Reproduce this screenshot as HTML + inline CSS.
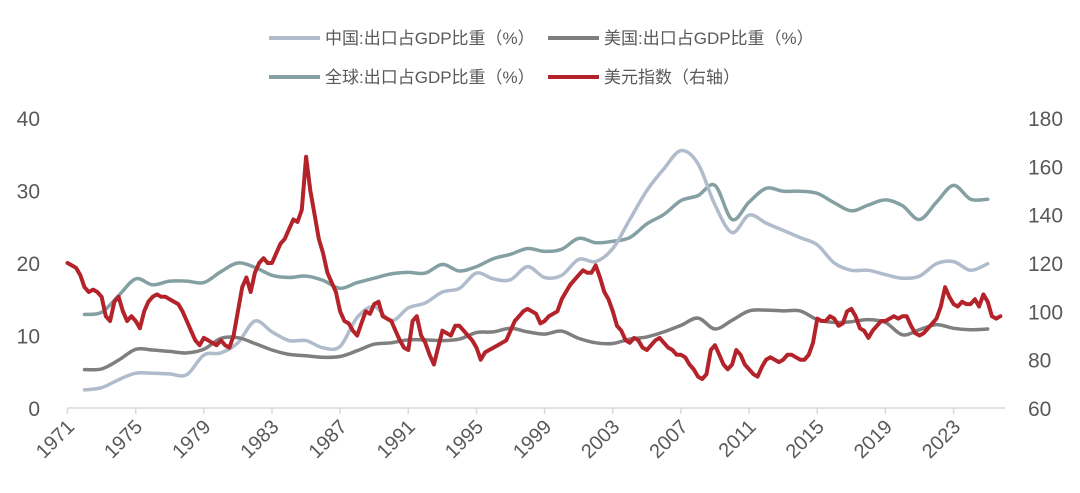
<!DOCTYPE html>
<html><head><meta charset="utf-8"><style>
html,body{margin:0;padding:0;background:#fff;}
svg{display:block;font-family:"Liberation Sans","Noto Sans CJK SC",sans-serif;}
</style></head><body>
<svg id="chart" width="1080" height="493" viewBox="0 0 1080 493">
<g id="legend">
<g><line x1="269" y1="38" x2="320" y2="38" stroke="#b0bccb" stroke-width="4"/><text x="325" y="44" font-size="17" fill="#595959">中国:出口占GDP比重（%）</text></g>
<g><line x1="548" y1="38" x2="599" y2="38" stroke="#7f7f7f" stroke-width="4"/><text x="604" y="44" font-size="17" fill="#595959">美国:出口占GDP比重（%）</text></g>
<g><line x1="269" y1="77" x2="320" y2="77" stroke="#84a0a3" stroke-width="4"/><text x="325" y="83" font-size="17" fill="#595959">全球:出口占GDP比重（%）</text></g>
<g><line x1="548" y1="77" x2="599" y2="77" stroke="#b4232a" stroke-width="4"/><text x="604" y="83" font-size="17" fill="#595959">美元指数（右轴）</text></g>
</g>
<g id="axes"></g>
<g id="series"></g>
</svg>
<script>
const leftTicks=[0,10,20,30,40];
const rightTicks=[60,80,100,120,140,160,180];
const yearLabels=[1971,1975,1979,1983,1987,1991,1995,1999,2003,2007,2011,2015,2019,2023];
const annualYears=[1972,1973,1974,1975,1976,1977,1978,1979,1980,1981,1982,1983,1984,1985,1986,1987,1988,1989,1990,1991,1992,1993,1994,1995,1996,1997,1998,1999,2000,2001,2002,2003,2004,2005,2006,2007,2008,2009,2010,2011,2012,2013,2014,2015,2016,2017,2018,2019,2020,2021,2022,2023,2024,2025];
const chinaValues=[2.5,2.8,3.9,4.8,4.8,4.7,4.6,7.3,7.6,9,12,10.5,9.3,9.3,8.3,8.5,12.5,14,12,13.8,14.5,16,16.5,18.6,17.8,17.7,19.5,18,18.3,20.5,20.2,22,26,30,33,35.5,33.7,28,24.2,26.6,25.5,24.5,23.5,22.5,20,19,19,18.4,17.9,18.2,19.9,20.2,19,19.9];
const usValues=[5.3,5.4,6.6,8.1,8.0,7.8,7.6,8.1,9.6,9.7,8.9,8.0,7.4,7.2,7.0,7.1,7.9,8.8,9.0,9.4,9.4,9.3,9.5,10.4,10.5,11.0,10.5,10.2,10.6,9.6,9.0,8.9,9.5,9.8,10.5,11.4,12.4,10.9,12.1,13.4,13.5,13.4,13.4,12.2,11.8,11.9,12.2,11.8,10.1,10.8,11.5,11.0,10.8,10.9];
const worldValues=[12.9,13.2,15.5,17.8,17.0,17.5,17.5,17.3,18.8,20.0,19.4,18.3,18.0,18.2,17.6,16.5,17.3,17.9,18.5,18.7,18.6,19.8,18.9,19.5,20.6,21.2,22.0,21.6,21.9,23.4,22.8,23.0,23.5,25.4,26.7,28.6,29.3,30.7,26.0,28.4,30.3,29.9,29.9,29.6,28.3,27.2,28.0,28.7,27.9,26.0,28.4,30.7,28.8,28.8];
const dollarStart=1971;
const dollarValues=[120,119,118,115,110,108,109,108,106,98,96,104,106,100,96,98,96,93,100,104,106,107,106,106,105,104,103,100,96,92,88,86,89,88,87,86,88,86,85,90,100,110,114,108,116,120,122,120,120,124,128,130,134,138,137,142,164,150,140,130,124,116,112,108,100,96,95,92,90,95,100,99,103,104,98,97,96,92,88,85,84,96,98,90,87,82,78,85,92,91,90,94,94,92,90,88,85,80,83,84,85,86,87,88,92,96,98,100,101,100,99,95,96,98,99,100,105,108,111,113,115,117,116,116,119,114,108,105,100,94,92,88,87,89,88,85,84,86,88,89,87,85,84,82,82,81,78,76,73,72,74,84,86,82,78,76,78,84,82,78,76,74,73,77,80,81,80,79,80,82,82,81,80,80,82,87,97,96,96,98,97,94,95,100,101,98,93,92,89,92,94,96,96,97,98,97,98,98,94,91,90,91,93,95,97,102,110,106,103,102,104,103,103,105,102,107,104,98,97,98];

const NS="http://www.w3.org/2000/svg";
const X0=67.5,PXY=17.04,YB=408,YT=118;
function xs(yr){return X0+(yr-1971)*PXY;}
function yl(v){return YB-(v-0)/40*(YB-YT);}
function yr(v){return YB-(v-60)/120*(YB-YT);}
function mk(tag,attrs,parent){const e=document.createElementNS(NS,tag);for(const k in attrs)e.setAttribute(k,attrs[k]);parent.appendChild(e);return e;}
const axes=document.getElementById('axes');
const base=mk('line',{x1:X0,y1:YB,x2:1005,y2:YB,stroke:'#d9d9d9','stroke-width':1.5},axes);


leftTicks.forEach(v=>{const t=mk('text',{x:40,y:yl(v)+8,'text-anchor':'end','font-size':21,fill:'#595959'},axes);t.textContent=v;

});
rightTicks.forEach(v=>{const t=mk('text',{x:1028,y:yr(v)+8,'font-size':21,fill:'#595959'},axes);t.textContent=v;

});
yearLabels.forEach(y=>{const x=xs(y);
const tk=mk('line',{x1:x,y1:YB,x2:x,y2:YB+6,stroke:'#d9d9d9','stroke-width':1.5},axes);


const t=mk('text',{x:x+8,y:YB+20,'text-anchor':'end','font-size':20,fill:'#595959',transform:`rotate(-45 ${x+8} ${YB+20})`},axes);t.textContent=y;

});
const ser=document.getElementById('series');
function pathD(xsA,vals,scale,smooth){
 const P=vals.map((v,i)=>[xs(xsA[i]),scale(v)]);
 let d='M'+P[0][0].toFixed(1)+','+P[0][1].toFixed(1);
 for(let i=0;i<P.length-1;i++){
  if(!smooth){d+='L'+P[i+1][0].toFixed(1)+','+P[i+1][1].toFixed(1);continue;}
  const p0=P[i-1]||P[i],p1=P[i],p2=P[i+1],p3=P[i+2]||P[i+1];
  const c1=[p1[0]+(p2[0]-p0[0])/6,p1[1]+(p2[1]-p0[1])/6];
  const c2=[p2[0]-(p3[0]-p1[0])/6,p2[1]-(p3[1]-p1[1])/6];
  d+='C'+c1.map(n=>n.toFixed(1)).join(',')+' '+c2.map(n=>n.toFixed(1)).join(',')+' '+p2.map(n=>n.toFixed(1)).join(',');
 }
 return d;
}
function line(xsA,vals,scale,color,w,name,smooth){
 const p=mk('path',{d:pathD(xsA,vals,scale,smooth),fill:'none',stroke:color,'stroke-width':w,'stroke-linejoin':'round','stroke-linecap':'round'},ser);
 
 
}
line(annualYears,worldValues,yl,'#84a0a3',3.5,'world-export-line',true);
line(annualYears,chinaValues,yl,'#b0bccb',3.5,'china-export-line',true);
line(annualYears,usValues,yl,'#7f7f7f',3.5,'us-export-line',true);
const dollarYears=dollarValues.map((v,i)=>dollarStart+i*0.25);
line(dollarYears,dollarValues,yr,'#b4232a',4,'dollar-index-line',false);
</script>
</body></html>
